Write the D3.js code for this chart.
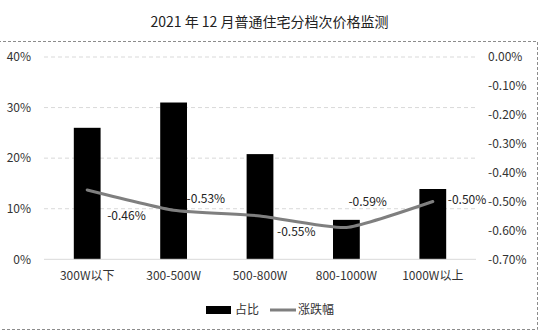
<!DOCTYPE html>
<html><head><meta charset="utf-8">
<script src="https://cdn.jsdelivr.net/npm/d3@7"></script>
<style>
body{margin:0;background:#fff;}
text{font-family:"Noto Sans CJK SC","Microsoft YaHei",sans-serif;}
</style></head>
<body>
<svg id="c" width="539" height="332"></svg>
<script>
const title = "2021 年 12 月普通住宅分档次价格监测";
const categories = ["300W以下","300-500W","500-800W","800-1000W","1000W以上"];
const shareValues = [26, 31, 20.8, 7.8, 13.9];          // 占比 (%)
const changeValues = [-0.46, -0.53, -0.55, -0.59, -0.50]; // 涨跌幅 (%)
const leftTicks = [0, 10, 20, 30, 40];
const rightTicks = [0, -0.1, -0.2, -0.3, -0.4, -0.5, -0.6, -0.7];
const seriesNames = ["占比", "涨跌幅"];
// label offsets from each line point (styling)
const labelOffsets = [[20,26],[13,-11],[17,16],[2,-26],[15,-2]];

const pct2 = d => (d < 0 ? "-" : "") + Math.abs(d).toFixed(2) + "%";

const svg = d3.select("#c");
const M = {left:44, right:476, top:57, bottom:259.3};

// outer dashed border
svg.append("rect").attr("x",-2).attr("y",41.5).attr("width",539.5).attr("height",288)
  .attr("fill","none").attr("stroke","#8c8c8c").attr("stroke-width",1).attr("stroke-dasharray","3,2");

svg.append("text").attr("x",269.5).attr("y",27).attr("text-anchor","middle")
  .attr("font-size",14).attr("fill","#222").text(title);

const x = d3.scaleBand().domain(categories).range([M.left, M.right]);
const yL = d3.scaleLinear().domain([0,40]).range([M.bottom, M.top]);
const yR = d3.scaleLinear().domain([-0.7,0]).range([M.bottom, M.top]);

// gridlines
svg.append("g").selectAll("line").data(leftTicks.filter(d=>d>0)).join("line")
  .attr("x1",M.left).attr("x2",M.right).attr("y1",d=>yL(d)).attr("y2",d=>yL(d))
  .attr("stroke","#d9d9d9").attr("stroke-dasharray","4,3");

// left axis
const axL = svg.append("g").attr("transform",`translate(${M.left},0)`)
  .call(d3.axisLeft(yL).tickValues(leftTicks).tickFormat(d=>d+"%").tickSize(0).tickPadding(13));
axL.select(".domain").remove();
axL.selectAll("text").attr("font-size",12).attr("fill","#333").attr("font-family","'Noto Sans CJK SC',sans-serif");

// right axis
const axR = svg.append("g").attr("transform",`translate(${M.right},0)`)
  .call(d3.axisRight(yR).tickValues(rightTicks).tickFormat(pct2).tickSize(0).tickPadding(12));
axR.select(".domain").remove();
axR.selectAll("text").attr("font-size",12).attr("fill","#333").attr("font-family","'Noto Sans CJK SC',sans-serif");

// bars
const bw = x.bandwidth()*0.31;
svg.append("g").selectAll("rect").data(shareValues).join("rect")
  .attr("x",(d,i)=>x(categories[i])+x.bandwidth()/2-bw/2)
  .attr("width",bw)
  .attr("y",d=>yL(d)).attr("height",d=>yL(0)-yL(d)).attr("fill","#000");

// baseline
svg.append("line").attr("x1",M.left).attr("x2",M.right).attr("y1",M.bottom).attr("y2",M.bottom)
  .attr("stroke","#d9d9d9").attr("stroke-width",1);

// x axis labels
const axB = svg.append("g").attr("transform",`translate(0,${M.bottom})`)
  .call(d3.axisBottom(x).tickSize(0).tickPadding(12));
axB.select(".domain").remove();
axB.selectAll("text").attr("font-size",12).attr("fill","#333").attr("font-family","'Noto Sans CJK SC',sans-serif");

// line
const pts = changeValues.map((v,i)=>[x(categories[i])+x.bandwidth()/2, yR(v)]);
svg.append("path").datum(pts)
  .attr("d", d3.line().curve(d3.curveCardinal.tension(0.5)))
  .attr("fill","none").attr("stroke","#7f7f7f").attr("stroke-width",3).attr("stroke-linecap","round");

// labels
svg.append("g").selectAll("text").data(changeValues).join("text")
  .attr("x",(d,i)=>pts[i][0]+labelOffsets[i][0])
  .attr("y",(d,i)=>pts[i][1]+labelOffsets[i][1])
  .attr("dy","0.35em").attr("font-size",12).attr("fill","#222")
  .text(pct2);

// legend
const lg = svg.append("g");
lg.append("rect").attr("x",206).attr("y",306).attr("width",25).attr("height",8).attr("fill","#000");
lg.append("text").attr("x",235).attr("y",310).attr("dy","0.35em").attr("font-size",12).attr("fill","#333").text(seriesNames[0]);
lg.append("line").attr("x1",270).attr("x2",296).attr("y1",310).attr("y2",310).attr("stroke","#7f7f7f").attr("stroke-width",3);
lg.append("text").attr("x",298).attr("y",310).attr("dy","0.35em").attr("font-size",12).attr("fill","#333").text(seriesNames[1]);
</script>
</body></html>
